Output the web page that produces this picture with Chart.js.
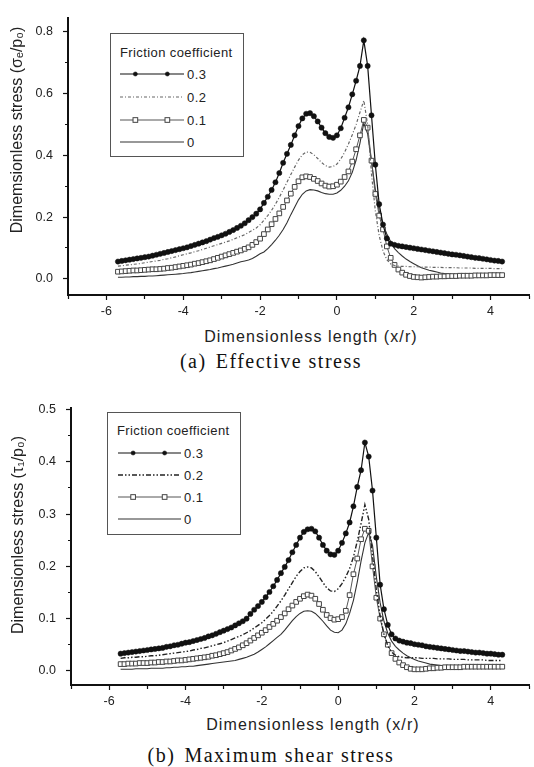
<!DOCTYPE html>
<html>
<head>
<meta charset="utf-8">
<title>Stress vs dimensionless length</title>
<script src="https://cdn.jsdelivr.net/npm/chart.js"></script>
<style>
body { margin:0; background:#fff; }
#page { position:relative; width:534px; height:767px; overflow:hidden; font-family:"Liberation Sans", Arial, sans-serif; color:#222; }
canvas { position:absolute; left:0; }
.ytitle { position:absolute; white-space:nowrap; font-size:16px; transform:translate(-50%,-50%) rotate(-90deg); }
.xtitle { position:absolute; white-space:nowrap; font-size:16px; letter-spacing:1.1px; transform:translate(-50%,-50%); }
.caption { position:absolute; white-space:nowrap; font-family:"Liberation Serif", "Times New Roman", serif; font-size:20px; letter-spacing:1.5px; transform:translate(-50%,-50%); color:#111; }
.caption .tag { margin-right:9px; }
.legend { position:absolute; border:1.5px solid #555; box-sizing:border-box; background:#fff; }
.legend span { position:absolute; white-space:nowrap; transform:translateY(-50%); font-size:13px; letter-spacing:0.4px; }
.legend svg { position:absolute; transform:translateY(-50%); }
</style>
</head>
<body>
<div id="page">
  <canvas id="chartA" width="534" height="322" style="top:0"></canvas>
  <canvas id="chartB" width="534" height="322" style="top:390px"></canvas>

  <div class="ytitle" style="left:17px;top:130px">Dimemsionless stress (σₑ/p₀)</div>
  <div class="xtitle" style="left:311px;top:337px">Dimensionless length (x/r)</div>
  <div class="caption" style="left:271px;top:361px"><span class="tag">(a)</span>Effective stress</div>

  <div class="ytitle" style="left:18px;top:535px">Dimensionless stress (τ₁/p₀)</div>
  <div class="xtitle" style="left:313px;top:725px">Dimensionless length (x/r)</div>
  <div class="caption" style="left:271px;top:755px"><span class="tag">(b)</span>Maximum shear stress</div>

  <div class="legend" id="legA" style="left:110px;top:33px;width:134px;height:124px"></div>
  <div class="legend" id="legB" style="left:107px;top:412px;width:134px;height:123px"></div>
</div>

<script>
// x positions (x/r), shared by every curve
const xPos = [-5.7,-5.6,-5.5,-5.4,-5.3,-5.2,-5.1,-5.0,-4.9,-4.8,
  -4.7,-4.6,-4.5,-4.4,-4.3,-4.2,-4.1,-4.0,-3.9,-3.8,
  -3.7,-3.6,-3.5,-3.4,-3.3,-3.2,-3.1,-3.0,-2.9,-2.8,
  -2.7,-2.6,-2.5,-2.4,-2.3,-2.2,-2.1,-2.0,-1.9,-1.8,
  -1.7,-1.6,-1.5,-1.4,-1.3,-1.2,-1.1,-1.0,-0.9,-0.8,
  -0.7,-0.6,-0.5,-0.4,-0.3,-0.2,-0.1,0.0,0.1,0.2,
  0.3,0.4,0.5,0.6,0.7,0.8,0.9,1.0,1.1,1.2,
  1.3,1.4,1.5,1.6,1.7,1.8,1.9,2.0,2.1,2.2,
  2.3,2.4,2.5,2.6,2.7,2.8,2.9,3.0,3.1,3.2,
  3.3,3.4,3.5,3.6,3.7,3.8,3.9,4.0,4.1,4.2,
  4.3];

const frictionLabels = ['0.3', '0.2', '0.1', '0'];

// (a) effective stress sigma_e/p0
const effective03 = [.056,.058,.060,.062,.064,.066,.068,.070,.072,.075,
  .078,.081,.084,.087,.090,.093,.096,.099,.102,.106,
  .110,.114,.118,.122,.127,.132,.136,.141,.146,.152,
  .158,.165,.172,.180,.190,.200,.211,.225,.246,.266,
  .288,.313,.343,.376,.405,.434,.465,.495,.520,.535,
  .537,.527,.510,.490,.472,.460,.457,.465,.488,.522,
  .556,.598,.642,.690,.773,.690,.530,.370,.242,.176,
  .131,.114,.110,.107,.105,.103,.101,.099,.097,.095,
  .093,.091,.089,.087,.085,.083,.081,.079,.078,.076,
  .074,.072,.070,.068,.067,.065,.063,.061,.059,.058,
  .056];
const effective02 = [.041,.042,.044,.045,.047,.048,.050,.052,.054,.056,
  .058,.060,.063,.065,.068,.071,.075,.078,.081,.084,
  .088,.091,.095,.099,.103,.107,.111,.115,.119,.123,
  .128,.133,.138,.143,.150,.157,.165,.175,.190,.205,
  .222,.242,.264,.288,.313,.338,.362,.385,.402,.411,
  .410,.402,.390,.377,.367,.362,.364,.372,.388,.410,
  .437,.467,.500,.540,.578,.500,.340,.220,.140,.090,
  .062,.048,.043,.041,.040,.040,.039,.039,.039,.038,
  .038,.038,.037,.037,.037,.036,.036,.036,.036,.035,
  .035,.035,.035,.034,.034,.034,.034,.034,.033,.033,
  .033];
const effective01 = [.023,.024,.025,.026,.027,.027,.028,.029,.030,.031,
  .031,.032,.033,.035,.036,.038,.040,.042,.044,.046,
  .049,.051,.054,.057,.060,.064,.068,.072,.076,.080,
  .084,.088,.092,.097,.102,.110,.119,.130,.145,.160,
  .177,.194,.212,.233,.254,.276,.298,.316,.329,.332,
  .330,.324,.317,.309,.302,.299,.300,.305,.315,.330,
  .348,.380,.420,.465,.515,.490,.383,.275,.205,.160,
  .105,.068,.045,.030,.020,.013,.009,.006,.005,.004,
  .005,.006,.007,.007,.008,.008,.009,.009,.009,.010,
  .010,.010,.010,.011,.011,.011,.011,.012,.012,.012,
  .012];
const effective00 = [.005,.005,.006,.006,.007,.007,.008,.008,.009,.009,
  .010,.011,.012,.013,.014,.015,.016,.017,.019,.020,
  .022,.024,.026,.028,.030,.033,.035,.038,.041,.044,
  .047,.051,.055,.058,.061,.066,.073,.081,.087,.098,
  .111,.125,.141,.160,.182,.208,.232,.256,.274,.285,
  .289,.288,.285,.280,.276,.274,.274,.278,.287,.300,
  .318,.345,.385,.440,.505,.470,.380,.290,.220,.175,
  .145,.120,.098,.085,.074,.064,.056,.049,.042,.036,
  .032,.028,.025,.022,.019,.017,.016,.014,.013,.012,
  .012,.011,.011,.011,.011,.011,.011,.011,.011,.011,
  .011];

// (b) maximum shear stress tau_1/p0
const shear03 = [.033,.034,.035,.036,.037,.038,.039,.040,.041,.042,
  .043,.044,.046,.047,.049,.050,.052,.054,.055,.057,
  .059,.061,.063,.066,.068,.071,.074,.077,.080,.083,
  .087,.091,.095,.100,.109,.117,.124,.132,.141,.151,
  .162,.174,.187,.199,.212,.227,.241,.255,.266,.271,
  .272,.267,.255,.241,.230,.223,.222,.230,.245,.263,
  .284,.315,.352,.384,.437,.410,.345,.255,.165,.118,
  .088,.070,.062,.058,.056,.054,.053,.051,.050,.049,
  .047,.046,.045,.044,.043,.042,.041,.040,.039,.038,
  .038,.037,.036,.035,.035,.034,.033,.033,.032,.031,
  .031];
const shear02 = [.024,.025,.025,.026,.026,.027,.027,.028,.029,.029,
  .030,.031,.032,.033,.034,.035,.036,.037,.038,.040,
  .041,.043,.044,.046,.048,.050,.052,.054,.057,.060,
  .063,.066,.069,.073,.077,.082,.087,.092,.099,.106,
  .114,.124,.134,.145,.157,.169,.181,.190,.197,.199,
  .197,.190,.180,.169,.159,.153,.152,.157,.167,.180,
  .196,.218,.248,.282,.318,.290,.220,.155,.105,.070,
  .048,.036,.030,.027,.026,.025,.025,.025,.025,.024,
  .024,.024,.024,.023,.023,.023,.023,.022,.022,.022,
  .022,.021,.021,.021,.021,.021,.020,.020,.020,.020,
  .020];
const shear01 = [.013,.013,.014,.014,.014,.015,.015,.015,.016,.016,
  .017,.017,.018,.018,.019,.020,.020,.021,.022,.023,
  .024,.025,.026,.027,.029,.030,.032,.034,.036,.039,
  .042,.045,.049,.053,.058,.063,.068,.073,.078,.084,
  .090,.096,.103,.110,.118,.125,.132,.138,.143,.146,
  .144,.138,.128,.117,.107,.101,.098,.099,.103,.115,
  .145,.185,.215,.252,.272,.268,.200,.140,.100,.070,
  .050,.034,.023,.016,.011,.007,.004,.003,.003,.003,
  .004,.005,.005,.006,.006,.007,.007,.007,.007,.007,
  .008,.008,.008,.008,.008,.008,.008,.008,.008,.008,
  .008];
const shear00 = [.003,.003,.003,.003,.004,.004,.004,.004,.005,.005,
  .005,.005,.006,.006,.007,.007,.008,.008,.009,.009,
  .010,.011,.012,.013,.014,.015,.016,.017,.018,.019,
  .020,.022,.024,.026,.029,.032,.036,.041,.046,.052,
  .058,.064,.070,.078,.087,.096,.104,.110,.114,.115,
  .114,.110,.103,.095,.086,.078,.074,.073,.078,.090,
  .110,.135,.170,.210,.245,.265,.240,.180,.130,.095,
  .072,.057,.047,.040,.034,.029,.025,.022,.019,.017,
  .015,.013,.012,.011,.010,.010,.009,.009,.009,.009,
  .009,.009,.009,.009,.009,.009,.009,.009,.009,.009,
  .009];

// labelled tick values
const xTickLabels = [-6, -4, -2, 0, 2, 4];
const yTickLabelsA = [0.0, 0.2, 0.4, 0.6, 0.8];
const yTickLabelsB = [0.0, 0.1, 0.2, 0.3, 0.4, 0.5];


// -------- line styles per friction coefficient --------
function seriesStyle(label, panel) {
    if (label === '0.3') {
        return { borderColor:'#111', borderWidth:1.2, borderDash:[], pointStyle:'circle', pointRadius:2.6,
                 pointBackgroundColor:'#111', pointBorderColor:'#111', pointBorderWidth:0.5 };
    }
    if (label === '0.2') {
        return panel === 'A'
            ? { borderColor:'#666', borderWidth:1.2, borderDash:[3,2,1,2], pointRadius:0 }
            : { borderColor:'#222', borderWidth:1.4, borderDash:[5,2,1.5,2,1.5,2], pointRadius:0 };
    }
    if (label === '0.1') {
        return { borderColor:'#555', borderWidth:1, borderDash:[], pointStyle:'rect', pointRadius:3.3,
                 pointBackgroundColor:'#fff', pointBorderColor:'#444', pointBorderWidth:1 };
    }
    return { borderColor:'#333', borderWidth:1.1, borderDash:[], pointRadius:0 };
}

function toPoints(ys) {
    return ys.map((y, i) => ({ x: xPos[i], y: y }));
}

const near = (a, b) => Math.abs(a - b) < 1e-6;

function makeChart(id, panel, seriesList, yMin, yMax, yStep, yLabels, leftWidth, topPad) {
    const tickFont = { family:'"Liberation Sans", Arial, sans-serif', size:12.5 };
    const datasets = seriesList.map((ys, i) => Object.assign({
        label: frictionLabels[i],
        data: toPoints(ys),
        tension: 0,
        fill: false
    }, seriesStyle(frictionLabels[i], panel)));

    return new Chart(document.getElementById(id), {
        type: 'line',
        data: { datasets: datasets },
        options: {
            responsive: false,
            animation: false,
            devicePixelRatio: 1,
            layout: { padding: { top: topPad, right: 3, left: 0, bottom: 0 } },
            plugins: { legend: { display:false }, tooltip: { enabled:false } },
            scales: {
                x: {
                    type: 'linear', min: -7, max: 5,
                    afterFit: s => { s.height = 27; },
                    border: { display:true, color:'#111', width:2 },
                    grid: {
                        drawOnChartArea: false, drawTicks: true, tickLength: 5,
                        tickColor: '#111', tickWidth: 1.2,
                        tickBorderDash: c => xTickLabels.some(v => near(v, c.tick.value)) ? [] : [3, 50]
                    },
                    ticks: {
                        stepSize: 1, includeBounds: false, autoSkip: false, maxRotation: 0,
                        padding: 4, color: '#222', font: tickFont,
                        callback: v => xTickLabels.some(t => near(t, v)) ? String(v) : ''
                    }
                },
                y: {
                    type: 'linear', min: yMin, max: yMax,
                    afterFit: s => { s.width = leftWidth; },
                    border: { display:true, color:'#111', width:2 },
                    grid: {
                        drawOnChartArea: false, drawTicks: true, tickLength: 5,
                        tickColor: '#111', tickWidth: 1.2,
                        tickBorderDash: c => yLabels.some(v => near(v, c.tick.value)) ? [] : [0, 2, 3, 50]
                    },
                    ticks: {
                        stepSize: yStep, includeBounds: false, autoSkip: false,
                        padding: 10, color: '#222', font: tickFont,
                        callback: v => yLabels.some(t => near(t, v)) ? v.toFixed(1) : ''
                    }
                }
            }
        }
    });
}

makeChart('chartA', 'A', [effective03, effective02, effective01, effective00],
          -0.0525, 0.847, 0.1, yTickLabelsA, 68, 10);
makeChart('chartB', 'B', [shear03, shear02, shear01, shear00],
          -0.027, 0.504, 0.05, yTickLabelsB, 71, 11);


// -------- legend boxes (HTML, same styles as the curves) --------
function sampleSvg(style, width) {
    const ns = 'http://www.w3.org/2000/svg';
    const svg = document.createElementNS(ns, 'svg');
    svg.setAttribute('width', width);
    svg.setAttribute('height', 10);
    const line = document.createElementNS(ns, 'line');
    line.setAttribute('x1', 0); line.setAttribute('x2', width);
    line.setAttribute('y1', 5); line.setAttribute('y2', 5);
    line.setAttribute('stroke', style.borderColor);
    line.setAttribute('stroke-width', style.borderWidth);
    if (style.borderDash && style.borderDash.length) line.setAttribute('stroke-dasharray', style.borderDash.join(' '));
    svg.appendChild(line);
    if (style.pointRadius > 0) {
        [0.24, 0.74].forEach(f => {
            const cx = width * f;
            let m;
            if (style.pointStyle === 'circle') {
                m = document.createElementNS(ns, 'circle');
                m.setAttribute('cx', cx); m.setAttribute('cy', 5); m.setAttribute('r', style.pointRadius * 0.8);
            } else {
                const half = style.pointRadius * Math.SQRT1_2;
                m = document.createElementNS(ns, 'rect');
                m.setAttribute('x', cx - half); m.setAttribute('y', 5 - half);
                m.setAttribute('width', 2 * half); m.setAttribute('height', 2 * half);
            }
            m.setAttribute('fill', style.pointBackgroundColor);
            m.setAttribute('stroke', style.pointBorderColor);
            m.setAttribute('stroke-width', style.pointBorderWidth);
            svg.appendChild(m);
        });
    }
    return svg;
}

function buildLegend(id, panel, geo) {
    const box = document.getElementById(id);
    const title = document.createElement('span');
    title.textContent = 'Friction coefficient';
    title.style.left = geo.textLeft + 'px';
    title.style.top = geo.titleY + 'px';
    box.appendChild(title);
    frictionLabels.forEach((lab, i) => {
        const svg = sampleSvg(seriesStyle(lab, panel), geo.lineW);
        svg.style.left = geo.lineX + 'px';
        svg.style.top = geo.rowY[i] + 'px';
        box.appendChild(svg);
        const t = document.createElement('span');
        t.textContent = lab;
        t.style.left = (geo.lineX + geo.lineW + 3) + 'px';
        t.style.top = geo.rowY[i] + 'px';
        box.appendChild(t);
    });
}

buildLegend('legA', 'A', { textLeft:9, titleY:18, lineX:9, lineW:64, rowY:[40, 62.5, 85.5, 107.5] });
buildLegend('legB', 'B', { textLeft:9, titleY:17, lineX:10, lineW:63, rowY:[40, 61.5, 84, 106] });
</script>
</body>
</html>
